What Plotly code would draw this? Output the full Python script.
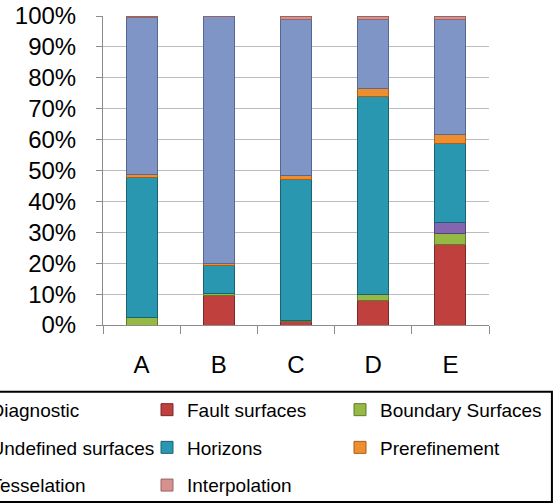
import plotly.graph_objects as go

categories = ["A", "B", "C", "D", "E"]
series_names = ["Diagnostic", "Fault surfaces", "Boundary Surfaces", "Undefined surfaces",
                "Horizons", "Prerefinement", "Tesselation", "Interpolation"]
diagnostic = [0, 0, 0, 0, 0]
fault_surfaces = [0, 9.5, 1.0, 8.0, 26.0]
boundary_surfaces = [2.3, 0.7, 0.6, 2.0, 3.7]
undefined_surfaces = [0, 0, 0, 0, 3.4]
horizons = [45.3, 9.2, 45.4, 64.0, 25.5]
prerefinement = [1.2, 0.6, 1.3, 2.6, 2.9]
tesselation = [50.7, 80.0, 50.5, 22.4, 37.3]
interpolation = [0.5, 0.0, 1.2, 1.0, 1.2]
y_tick_values = [0, 10, 20, 30, 40, 50, 60, 70, 80, 90, 100]
y_tick_labels = ["0%", "10%", "20%", "30%", "40%", "50%", "60%", "70%", "80%", "90%", "100%"]

series_values = [diagnostic, fault_surfaces, boundary_surfaces, undefined_surfaces,
                 horizons, prerefinement, tesselation, interpolation]
colors = ["#4F81BD", "#C0403D", "#94BA45", "#8466B0", "#2A97B0", "#EE8E2E", "#7F95C6", "#D4918F"]
edge = ["#35587f", "#7a2a28", "#5f7a2c", "#55427a", "#1b6374", "#a85f1c", "#56688f", "#9a6462"]
legend_ids = ["legend", "legend2", "legend3", "legend", "legend2", "legend3", "legend", "legend2"]

fig = go.Figure()
for name, vals, c, e, lg in zip(series_names, series_values, colors, edge, legend_ids):
    fig.add_trace(go.Bar(
        x=categories, y=vals, name=name,
        marker=dict(color=c, line=dict(color=e, width=1)),
        legend=lg, legendgroup=name,
    ))

FONT = "Liberation Sans, Arial, sans-serif"
leg_common = dict(orientation="v", xanchor="left", yanchor="top", y=-0.213,
                  bgcolor="rgba(0,0,0,0)", borderwidth=0, tracegroupgap=10,
                  font=dict(family=FONT, size=19, color="#000000"), traceorder="grouped")

fig.update_layout(
    width=558, height=504,
    margin=dict(l=103, r=69, t=16, b=179, autoexpand=False),
    paper_bgcolor="white", plot_bgcolor="white",
    barmode="stack", bargap=0.6,
    showlegend=True,
    legend=dict(x=-0.395, **leg_common),
    legend2=dict(x=0.114, **leg_common),
    legend3=dict(x=0.614, **leg_common),
    xaxis=dict(
        type="category", showgrid=False, showline=True, linecolor="#8c8c8c", linewidth=1,
        ticks="outside", tickson="boundaries", ticklen=8, tickcolor="#8c8c8c",
        tickfont=dict(family=FONT, size=24, color="#000000"), ticklabelstandoff=18,
    ),
    yaxis=dict(
        range=[0, 100], tickvals=y_tick_values, ticktext=y_tick_labels,
        showgrid=True, gridcolor="#bcbcbc", gridwidth=1,
        showline=True, linecolor="#8c8c8c", linewidth=1,
        ticks="outside", ticklen=6, tickcolor="#8c8c8c",
        tickfont=dict(family=FONT, size=24, color="#000000"), ticklabelstandoff=15,
        zeroline=False,
    ),
    shapes=[dict(type="rect", xref="paper", yref="paper",
                 x0=-0.6, x1=1.163, y0=-0.573, y1=-0.216,
                 line=dict(color="#000000", width=2), fillcolor="rgba(0,0,0,0)")],
)

fig.write_html("out.html", config={"displayModeBar": False},
               post_script="document.body.style.margin='0px';")
